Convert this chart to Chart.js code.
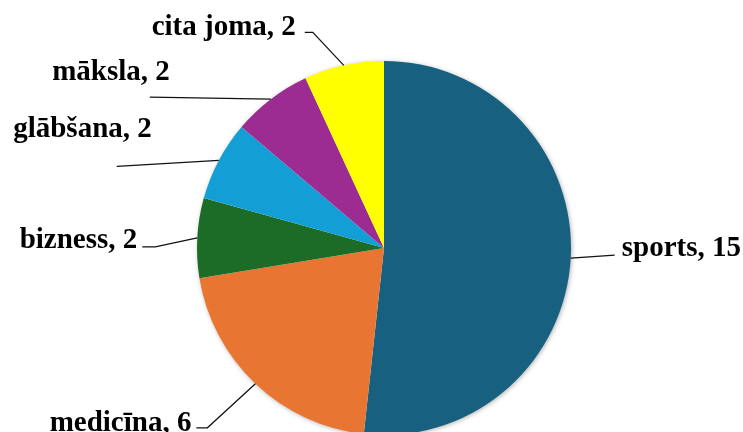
<!DOCTYPE html>
<html>
<head>
<meta charset="utf-8">
<script src="https://cdn.jsdelivr.net/npm/chart.js@4/dist/chart.umd.min.js"></script>
<style>
  html, body { margin: 0; padding: 0; background: #fff; overflow: hidden; }
  #wrap { position: relative; width: 743px; height: 500px; }
</style>
</head>
<body>
<div id="wrap"><canvas id="pieChart" width="743" height="500"></canvas></div>
<script>
const categories = ['sports', 'medicīna', 'bizness', 'glābšana', 'māksla', 'cita joma'];
const counts = [15, 6, 2, 2, 2, 2];
const sliceColors = ['#17607f', '#e97533', '#1c6b26', '#139fd6', '#9c2c92', '#ffff00'];

// leader line layout per label, relative to slice's outer mid point
// dx/dy: first segment, hx: horizontal tail, tx/ty: text anchor offset from line end
const labelLayout = [
    { dx: 44, dy: -3, hx: 0, tx: 7, ty: 1, align: 'left' },
    { dx: -48, dy: 44, hx: -11, tx: -5, ty: 3, align: 'right' },
    { dx: -42, dy: 9, hx: -13, tx: -5, ty: 1, align: 'right' },
    { dx: -102, dy: 6, hx: 0, tx: 35, ty: -29, align: 'right' },
    { dx: -121, dy: -2, hx: 0, tx: 20, ty: -17, align: 'right' },
    { dx: -31, dy: -33, hx: -8, tx: -9, ty: 3, align: 'right' }
];

const pieShadow = {
    id: 'pieShadow',
    beforeDatasetsDraw(chart) {
        const arc = chart.getDatasetMeta(0).data[0];
        if (!arc) return;
        const c = chart.ctx;
        c.save();
        c.shadowColor = 'rgba(0,0,0,0.35)';
        c.shadowBlur = 5;
        c.shadowOffsetX = 1;
        c.shadowOffsetY = 1;
        c.fillStyle = '#fff';
        c.beginPath();
        c.arc(arc.x, arc.y, arc.outerRadius - 0.5, 0, Math.PI * 2);
        c.fill();
        c.restore();
    }
};

const leaderLabels = {
    id: 'leaderLabels',
    afterDatasetsDraw(chart) {
        const c = chart.ctx;
        const meta = chart.getDatasetMeta(0);
        c.save();
        c.font = 'bold 29px "Liberation Serif", "Times New Roman", serif';
        c.fillStyle = '#000';
        c.strokeStyle = '#111';
        c.lineWidth = 1.25;
        c.textBaseline = 'alphabetic';
        meta.data.forEach((arc, i) => {
            const mid = (arc.startAngle + arc.endAngle) / 2;
            const ox = arc.x + Math.cos(mid) * arc.outerRadius;
            const oy = arc.y + Math.sin(mid) * arc.outerRadius;
            const L = labelLayout[i];
            const ex = ox + L.dx, ey = oy + L.dy;
            c.beginPath();
            c.moveTo(ox, oy);
            c.lineTo(ex, ey);
            c.lineTo(ex + L.hx, ey);
            c.stroke();
            c.textAlign = L.align;
            c.fillText(categories[i] + ', ' + counts[i], ex + L.hx + L.tx, ey + L.ty);
        });
        c.restore();
    }
};

new Chart(document.getElementById('pieChart'), {
    type: 'pie',
    data: {
        labels: categories,
        datasets: [{
            data: counts,
            backgroundColor: sliceColors,
            borderWidth: 0
        }]
    },
    options: {
        responsive: false,
        animation: false,
        layout: { padding: { left: 197, right: 172, top: 61, bottom: 65 } },
        plugins: {
            legend: { display: false },
            tooltip: { enabled: false }
        }
    },
    plugins: [pieShadow, leaderLabels]
});
</script>
</body>
</html>
